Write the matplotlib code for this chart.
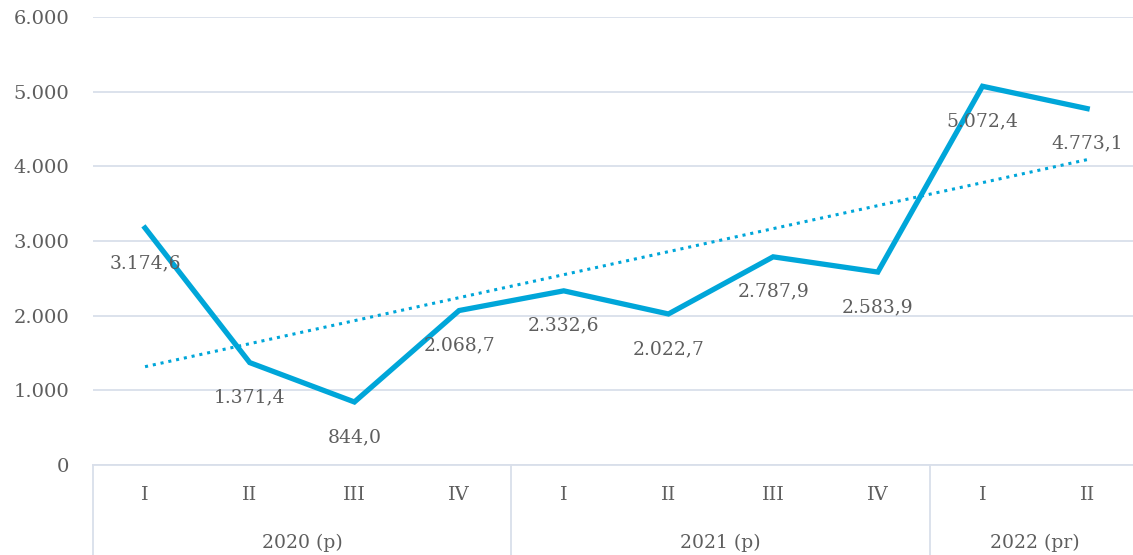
import numpy as np
import matplotlib.pyplot as plt

quarters = ["I", "II", "III", "IV", "I", "II", "III", "IV", "I", "II"]
years = ["2020 (p)", "2021 (p)", "2022 (pr)"]
year_sizes = [4, 4, 2]
values = [3174.6, 1371.4, 844.0, 2068.7, 2332.6, 2022.7, 2787.9, 2583.9, 5072.4, 4773.1]

line_color = "#00A6D9"
grid_color = "#D9DFEA"
text_color = "#5E5E5E"
font = "DejaVu Serif"


def fmt(v, dec=1):
    s = f"{v:,.{dec}f}"
    return s.replace(",", "X").replace(".", ",").replace("X", ".")


W, H = 1133, 555
fig = plt.figure(figsize=(W / 100, H / 100), dpi=100)
left, right = 92.7 / W, 1139.5 / W
bottom, top = 1 - 465 / H, 1 - 17 / H
ax = fig.add_axes([left, bottom, right - left, top - bottom])

x = np.arange(len(values))
ax.plot(x, values, color=line_color, lw=3.8, solid_joinstyle="miter", zorder=3)

# linear trendline
k, b = np.polyfit(x, values, 1)
ax.plot(x, k * x + b, color=line_color, lw=2.2, linestyle=(0, (1, 1.6)), zorder=3)

for xi, v in zip(x, values):
    ax.annotate(fmt(v), (xi, v), xytext=(0, -35), textcoords="offset pixels",
                ha="center", va="center", fontsize=13.5, color=text_color,
                family=font, zorder=4)

ax.set_xlim(-0.5, len(values) - 0.5)
ax.set_ylim(0, 6000)
ax.set_yticks(np.arange(0, 6001, 1000))
ax.set_yticklabels([fmt(t, 0) for t in np.arange(0, 6001, 1000)],
                   fontsize=14, color=text_color, family=font)
ax.tick_params(axis="y", length=0, pad=17)
ax.set_xticks([])
ax.grid(axis="y", color=grid_color, lw=1.3)
for s in ["left", "right", "top"]:
    ax.spines[s].set_visible(False)
ax.spines["bottom"].set_color(grid_color)
ax.spines["bottom"].set_linewidth(1.3)

# two-level category axis
trans = ax.get_xaxis_transform()
for xi, q in zip(x, quarters):
    ax.text(xi, -30 / 448, q, transform=trans, ha="center", va="center",
            fontsize=14, color=text_color, family=font)
start = 0
bounds = [start]
for name, n in zip(years, year_sizes):
    mid = start + (n - 1) / 2
    ax.text(mid, -78 / 448, name, transform=trans, ha="center", va="center",
            fontsize=13.5, color=text_color, family=font)
    start += n
    bounds.append(start)
for bd in bounds:
    ax.plot([bd - 0.5, bd - 0.5], [0, -100 / 448], transform=trans,
            color=grid_color, lw=1.3, clip_on=False)

fig.savefig("out.png", dpi=100)
